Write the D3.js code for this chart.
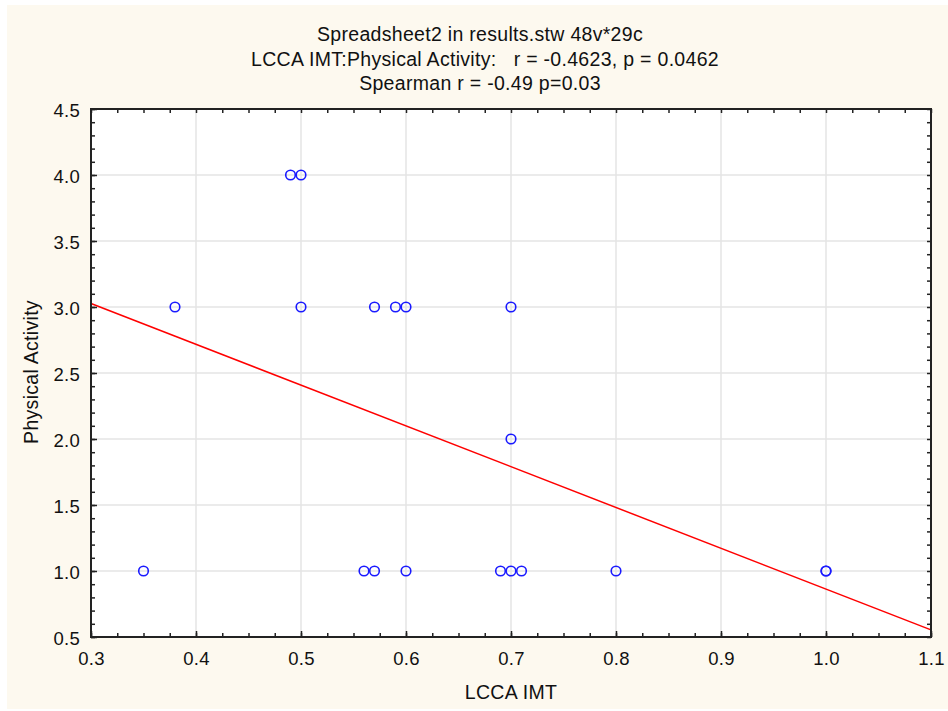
<!DOCTYPE html>
<html>
<head>
<meta charset="utf-8">
<script src="https://cdn.jsdelivr.net/npm/d3@7"></script>
<style>
  body { margin: 0; background: #fff; }
  svg text { font-family: "Liberation Sans", Arial, sans-serif; fill: #111; white-space: pre; letter-spacing: 0.3px; }
  .tick-label { font-size: 18.5px; }
</style>
</head>
<body>
<div id="chart"></div>
<script>
// LCCA IMT values, grouped by their Physical Activity score
var imtAt4 = [0.49, 0.50];
var imtAt3 = [0.38, 0.50, 0.57, 0.59, 0.60, 0.70];
var imtAt2 = [0.70];
var imtAt1 = [0.35, 0.56, 0.57, 0.60, 0.69, 0.70, 0.71, 0.80, 1.00, 1.00];

var xTicks = [0.3, 0.4, 0.5, 0.6, 0.7, 0.8, 0.9, 1.0, 1.1];
var yTicks = [0.5, 1.0, 1.5, 2.0, 2.5, 3.0, 3.5, 4.0, 4.5];

var titles = [
  'Spreadsheet2 in results.stw 48v*29c',
  'LCCA IMT:Physical Activity:   r = -0.4623, p = 0.0462',
  'Spearman r = -0.49 p=0.03'
];

var points = [];
[[4, imtAt4], [3, imtAt3], [2, imtAt2], [1, imtAt1]].forEach(function(g) {
  g[1].forEach(function(v) { points.push({ x: v, y: g[0] }); });
});

var W = 948, H = 711;
var pl = 91, pr = 931, pt = 109, pb = 637;

var svg = d3.select('#chart').append('svg')
  .attr('width', W).attr('height', H);

svg.append('rect')
  .attr('x', 7).attr('y', 5).attr('width', W - 7).attr('height', H - 7)
  .attr('fill', '#fdf9ef');

var x = d3.scaleLinear().domain([0.3, 1.1]).range([pl, pr]);
var y = d3.scaleLinear().domain([0.5, 4.5]).range([pb, pt]);

svg.append('rect')
  .attr('x', pl).attr('y', pt)
  .attr('width', pr - pl).attr('height', pb - pt)
  .attr('fill', '#fff');

// grid
svg.append('g').selectAll('line').data(xTicks.slice(1, -1)).enter().append('line')
  .attr('x1', function(d) { return x(d); }).attr('x2', function(d) { return x(d); })
  .attr('y1', pt).attr('y2', pb)
  .attr('stroke', '#e4e4e4').attr('stroke-width', 1.5);
svg.append('g').selectAll('line').data(yTicks.slice(1, -1)).enter().append('line')
  .attr('y1', function(d) { return y(d); }).attr('y2', function(d) { return y(d); })
  .attr('x1', pl).attr('x2', pr)
  .attr('stroke', '#e4e4e4').attr('stroke-width', 1.5);

// regression line (least squares)
var mx = d3.mean(points, function(d) { return d.x; });
var my = d3.mean(points, function(d) { return d.y; });
var sxy = d3.sum(points, function(d) { return (d.x - mx) * (d.y - my); });
var sxx = d3.sum(points, function(d) { return (d.x - mx) * (d.x - mx); });
var slope = sxy / sxx, icpt = my - slope * mx;

svg.append('line')
  .attr('x1', x(0.3)).attr('y1', y(icpt + slope * 0.3))
  .attr('x2', x(1.1)).attr('y2', y(icpt + slope * 1.1))
  .attr('stroke', '#ff0000').attr('stroke-width', 1.5);

// points
svg.append('g').selectAll('circle').data(points).enter().append('circle')
  .attr('cx', function(d) { return x(d.x); })
  .attr('cy', function(d) { return y(d.y); })
  .attr('r', 4.8)
  .attr('fill', 'none')
  .attr('stroke', '#1a1aff').attr('stroke-width', 1.6);

// axes with inward ticks on all four sides
var xMinor = d3.range(0.3, 1.1001, 0.025);
var yMinor = d3.range(0.5, 4.5001, 0.1);

function minor(g, axis) {
  g.call(axis);
  g.select('.domain').remove();
  g.selectAll('text').remove();
  g.selectAll('line').attr('stroke', '#222').attr('stroke-width', 1.5);
}

svg.append('g').attr('transform', 'translate(0,' + pb + ')')
  .call(minor, d3.axisBottom(x).tickValues(xMinor).tickSize(-4));
svg.append('g').attr('transform', 'translate(0,' + pt + ')')
  .call(minor, d3.axisTop(x).tickValues(xMinor).tickSize(-4));
svg.append('g').attr('transform', 'translate(' + pl + ',0)')
  .call(minor, d3.axisLeft(y).tickValues(yMinor).tickSize(-4));
svg.append('g').attr('transform', 'translate(' + pr + ',0)')
  .call(minor, d3.axisRight(y).tickValues(yMinor).tickSize(-4));

var gx = svg.append('g').attr('transform', 'translate(0,' + pb + ')')
  .call(d3.axisBottom(x).tickValues(xTicks).tickSizeInner(-6).tickSizeOuter(0).tickFormat(d3.format('.1f')));
gx.select('.domain').remove();
gx.selectAll('line').attr('stroke', '#222').attr('stroke-width', 1.5);
gx.selectAll('text').attr('class', 'tick-label').attr('y', 28).attr('dy', null);

var gy = svg.append('g').attr('transform', 'translate(' + pl + ',0)')
  .call(d3.axisLeft(y).tickValues(yTicks).tickSizeInner(-6).tickSizeOuter(0).tickFormat(d3.format('.1f')));
gy.select('.domain').remove();
gy.selectAll('line').attr('stroke', '#222').attr('stroke-width', 1.5);
gy.selectAll('text').attr('class', 'tick-label').attr('x', -11).attr('dy', '0.38em');

// frame
svg.append('rect')
  .attr('x', pl).attr('y', pt)
  .attr('width', pr - pl).attr('height', pb - pt)
  .attr('fill', 'none').attr('stroke', '#222').attr('stroke-width', 2);

// titles
svg.append('g').selectAll('text').data(titles).enter().append('text')
  .attr('x', function(d, i) { return i === 1 ? 485 : 480; })
  .attr('y', function(d, i) { return 41 + i * 24.5; })
  .attr('text-anchor', 'middle')
  .style('font-size', '19.5px')
  .text(function(d) { return d; });

svg.append('text')
  .attr('x', 511).attr('y', 699)
  .attr('text-anchor', 'middle')
  .style('font-size', '19.5px')
  .text('LCCA IMT');

svg.append('text')
  .attr('transform', 'translate(38,372) rotate(-90)')
  .attr('text-anchor', 'middle')
  .style('font-size', '19.5px')
  .text('Physical Activity');
</script>
</body>
</html>
